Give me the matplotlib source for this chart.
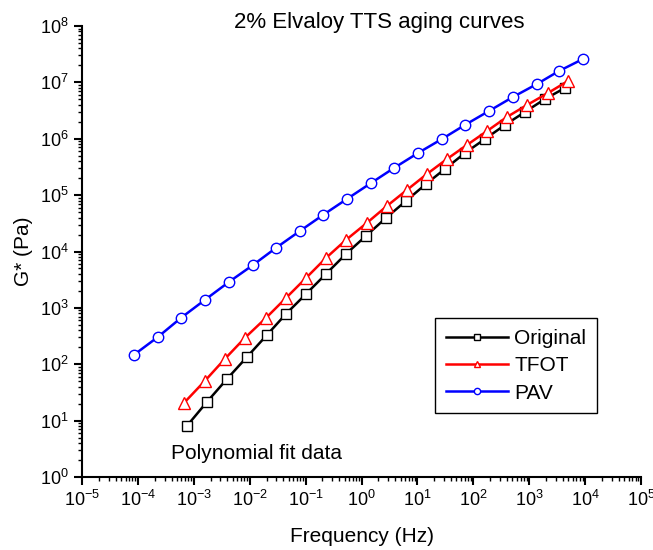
import matplotlib
matplotlib.use("Agg")
import matplotlib.pyplot as plt
import matplotlib.ticker as ticker
import numpy as np

plt.rcParams['font.family'] = ['Liberation Sans', 'DejaVu Sans']
plt.rcParams['mathtext.default'] = 'regular'

# Original
freq_orig = [7.55e-4, 1.72e-3, 3.93e-3, 8.95e-3, 2.04e-2, 4.46e-2, 0.102, 0.232, 0.528, 1.20,
             2.74, 6.25, 14.3, 31.2, 71.1, 162, 369, 841, 1920, 4365]
g_orig = [8.1, 21.5, 55, 135, 332, 783, 1770, 4010, 9060, 18900,
          39400, 78900, 158000, 292000, 560000, 991000, 1.76e6, 2.99e6, 5.08e6, 7.96e6]

# TFOT
freq_tfot = [6.7e-4, 1.58e-3, 3.61e-3, 8.2e-3, 1.96e-2, 4.46e-2, 0.102, 0.232, 0.528, 1.25,
             2.86, 6.52, 14.9, 33.9, 77.1, 176, 401, 914, 2170, 4940]
g_tfot = [20.7, 50.8, 125, 294, 665, 1500, 3400, 7700, 16070, 32200,
          64400, 124000, 238000, 438000, 777000, 1.37e6, 2.44e6, 3.97e6, 6.48e6, 1.06e7]

# PAV
freq_pav = [8.5e-5, 2.29e-4, 5.9e-4, 1.58e-3, 4.26e-3, 1.15e-2, 2.95e-2, 7.94e-2, 0.205, 0.551,
            1.48, 3.81, 10.3, 27.5, 71, 191, 513, 1380, 3410, 9160]
g_pav = [147, 306, 665, 1387, 2890, 5780, 11590, 23200, 44500, 85700,
         164000, 303000, 560000, 991000, 1.76e6, 3.11e6, 5.51e6, 9.37e6, 1.59e7, 2.6e7]

fig = plt.figure(figsize=(6.53, 5.5), dpi=100)
ax = fig.add_axes([0.1256, 0.1327, 0.856, 0.82])

ax.plot(freq_orig, g_orig, color='black', lw=1.8, marker='s', ms=6.5,
        mfc='white', mec='black', mew=1, label='Original')
ax.plot(freq_tfot, g_tfot, color='red', lw=1.8, marker='^', ms=8,
        mfc='white', mec='red', mew=1, label='TFOT')
ax.plot(freq_pav, g_pav, color='blue', lw=1.8, marker='o', ms=7.5,
        mfc='white', mec='blue', mew=1, label='PAV')

ax.set_xscale('log')
ax.set_yscale('log')
ax.set_xlim(1e-5, 1e5)
ax.set_ylim(1e0, 1e8)

ax.xaxis.set_major_locator(ticker.LogLocator(base=10, numticks=20))
ax.yaxis.set_major_locator(ticker.LogLocator(base=10, numticks=20))
ax.xaxis.set_minor_locator(ticker.LogLocator(base=10, subs=np.arange(2, 10), numticks=100))
ax.yaxis.set_minor_locator(ticker.LogLocator(base=10, subs=np.arange(2, 10), numticks=100))
ax.xaxis.set_minor_formatter(ticker.NullFormatter())
ax.yaxis.set_minor_formatter(ticker.NullFormatter())

ax.spines['top'].set_visible(False)
ax.spines['right'].set_visible(False)
ax.spines['left'].set_linewidth(1.5)
ax.spines['bottom'].set_linewidth(1.5)
ax.tick_params(which='major', direction='out', length=6, width=1.5, labelsize=13)
ax.tick_params(which='minor', direction='out', length=3, width=1)

ax.set_xlabel('Frequency (Hz)', fontsize=15, labelpad=12)
ax.set_ylabel('G* (Pa)', fontsize=15, labelpad=5)

fig.text(0.581, 1 - 28 / 550, '2% Elvaloy TTS aging curves', fontsize=16,
         ha='center', va='baseline')
ax.text(3.9e-4, 2.1, 'Polynomial fit data', fontsize=15, ha='left', va='baseline')

leg = ax.legend(loc='lower right', bbox_to_anchor=(0.921, 0.142), fontsize=15,
                fancybox=False, edgecolor='black', framealpha=1, markerscale=0.6,
                handlelength=3.0, handletextpad=0.3, borderpad=0.5,
                labelspacing=0.4, borderaxespad=0)
leg.get_frame().set_linewidth(1)

fig.savefig('out.png', dpi=100)
